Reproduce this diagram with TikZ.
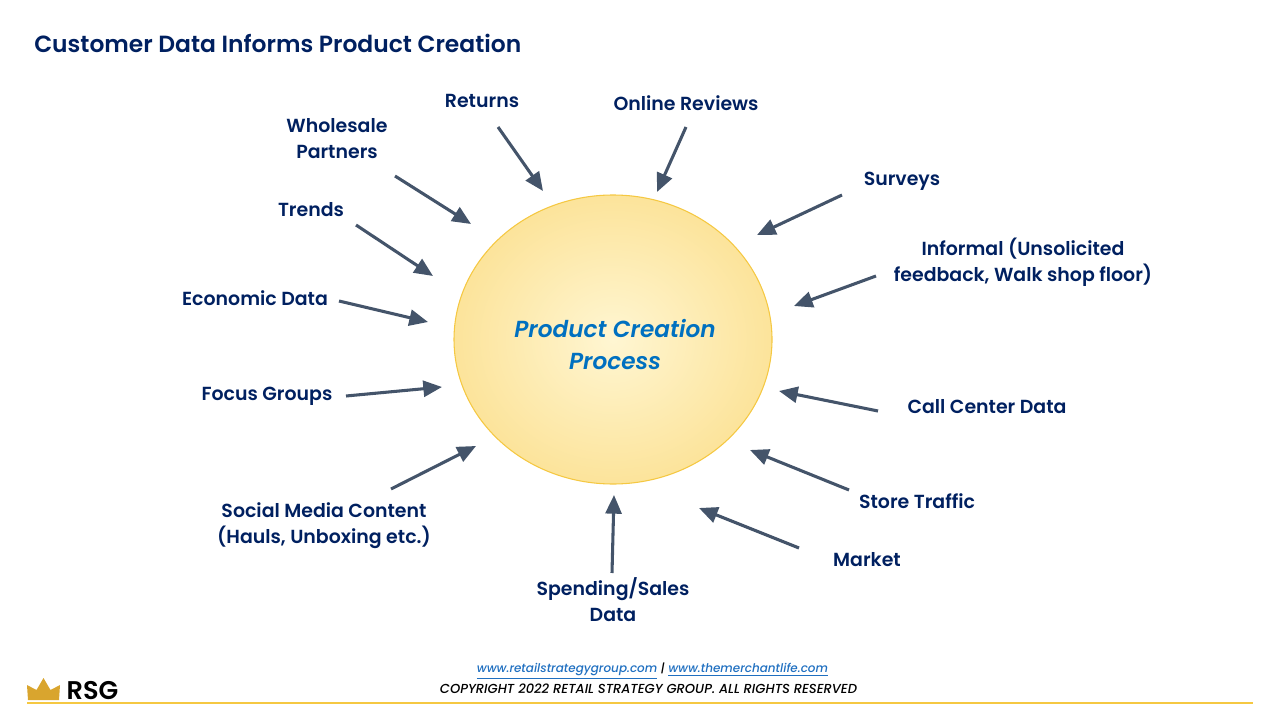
\documentclass[tikz,border=0pt]{standalone}
\usepackage{fontspec}
\setmainfont{Poppins SemiBold}
\newfontfamily\medit{Poppins Medium Italic}
\newfontfamily\semiit{Poppins SemiBold Italic}
\usetikzlibrary{arrows.meta}
\definecolor{navy}{HTML}{002060}
\definecolor{arrowc}{HTML}{44546A}
\definecolor{procblue}{HTML}{0070C0}
\definecolor{rim}{HTML}{F5C842}
\definecolor{goldc}{HTML}{D9A52E}
\definecolor{linkc}{HTML}{1F6FC0}
\definecolor{sunin}{HTML}{FFF6D2}
\definecolor{sunout}{HTML}{F9D163}
\pgfdeclareradialshading{sun}{\pgfpoint{0bp}{0bp}}{color(0bp)=(sunin); color(50bp)=(sunout); color(100bp)=(sunout)}
\tikzset{
 lab/.style={text=navy,font=\fontsize{14.2pt}{19.4pt}\selectfont,align=center,inner sep=0,anchor=center},
 feed/.style={draw=arrowc,line width=2.3pt,-{Triangle[length=14pt,width=12pt]}},
}
\begin{document}
\begin{tikzpicture}[x=0.75pt,y=-0.75pt]
\useasboundingbox (0,0) rectangle (1280,720);
\node[lab,anchor=west,font=\fontsize{17.55pt}{22pt}\selectfont] (title) at (34,43) {Customer Data Informs Product Creation};
\shade[shading=sun, draw=rim, line width=0.8pt] (613,339.5) ellipse [x radius=159, y radius=144.5];
\node[lab,text=procblue,font=\fontsize{17.4pt}{24pt}\selectfont\semiit] (proc) at (615,345) {Product Creation\\Process};
\node[lab] (ret) at (482,100.5) {Returns};
\node[lab] (rev) at (686,103) {Online Reviews};
\node[lab] (whole) at (337,138.5) {Wholesale\\Partners};
\node[lab] (trends) at (311,209.5) {Trends};
\node[lab] (econ) at (255,298) {Economic Data};
\node[lab] (focus) at (267,396) {Focus Groups};
\node[lab] (social) at (324,526) {Social Media Content\\(Hauls, Unboxing etc.)};
\node[lab] (spend) at (613,599.5) {Spending/Sales\\Data};
\node[lab] (market) at (867,559.5) {Market};
\node[lab] (store) at (917,501) {Store Traffic};
\node[lab] (call) at (987,407) {Call Center Data};
\node[lab] (inf) at (1023,262) {Informal (Unsolicited\\feedback, Walk shop floor)};
\node[lab] (surv) at (902,181) {Surveys};
\foreach \n/\ax/\ay/\bx/\by in {ret/498/127/543/191, rev/686/127/657/192, whole/395/176/471/224, trends/356/225/433/276, econ/339/301/428/322, focus/346/396/442/387, social/391/489/476/446, spend/612/573/614/495, market/799/548/699/508, store/849/490/750/450, call/878/411/779/391, inf/876/276/794/306, surv/842/195/757/235}{
 \coordinate (\n s) at (\ax,\ay);
 \coordinate (\n e) at (\bx,\by);
 \draw[feed] (\n s) -- (\n e);
}
\fill[goldc] (28,700) -- (27,685) -- (36.5,690) -- (43.5,678) -- (50.5,690) -- (60,685) -- (59,700) -- cycle;
\node[lab,text=black,font=\fontsize{19.2pt}{20pt}\selectfont] (rsg) at (92.5,691) {RSG};
\draw[rim,line width=1pt] (27,703) -- (1253,703);
\node[lab,text=linkc,font=\fontsize{8.98pt}{12pt}\selectfont\medit] (links) at (652.5,671) {\underline{www.retailstrategygroup.com} \textcolor{black}{|} \underline{www.themerchantlife.com}};
\node[lab,text=black,font=\fontsize{9.8pt}{12pt}\selectfont\medit] (copy) at (648.5,689) {COPYRIGHT 2022 RETAIL STRATEGY GROUP. ALL RIGHTS RESERVED};
\end{tikzpicture}
\end{document}
